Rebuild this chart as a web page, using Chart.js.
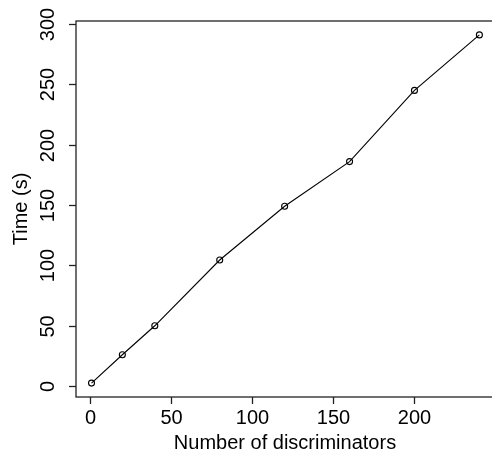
<!DOCTYPE html>
<html>
<head>
<meta charset="utf-8">
<script src="https://cdn.jsdelivr.net/npm/chart.js@4"></script>
<style>
  html, body { margin: 0; padding: 0; background: #fff; overflow: hidden; }
  #chart { display: block; }
</style>
</head>
<body>
<canvas id="chart" width="500" height="455"></canvas>
<script>
// Data
const discriminators = [1, 20, 40, 80, 120, 160, 200, 240];
const timeSeconds = [2.5, 26, 50, 104.5, 149, 186, 245, 291];
const xTicks = [0, 50, 100, 150, 200];
const yTicks = [0, 50, 100, 150, 200, 250, 300];
const xTitle = 'Number of discriminators';
const yTitle = 'Time (s)';

const FONT = '20px "Liberation Sans", Arial, sans-serif';

// R-style axes: box, outward ticks, rotated y labels
const rAxes = {
  id: 'rAxes',
  afterDraw(chart) {
    const { ctx, chartArea: a, scales } = chart;
    const x = scales.x, y = scales.y;
    ctx.save();
    ctx.strokeStyle = '#222';
    ctx.lineWidth = 1.3;
    ctx.strokeRect(a.left, a.top, a.right - a.left, a.bottom - a.top);

    ctx.fillStyle = '#000';
    ctx.font = FONT;

    // x axis
    ctx.textAlign = 'center';
    ctx.textBaseline = 'alphabetic';
    xTicks.forEach(function (v) {
      const px = Math.round(x.getPixelForValue(v)) + 0.5;
      ctx.beginPath();
      ctx.moveTo(px, a.bottom);
      ctx.lineTo(px, a.bottom + 7);
      ctx.stroke();
      ctx.fillText(String(v), px, a.bottom + 27);
    });
    ctx.fillText(xTitle, 285, a.bottom + 52);

    // y axis
    yTicks.forEach(function (v) {
      const py = Math.round(y.getPixelForValue(v)) + 0.5;
      ctx.beginPath();
      ctx.moveTo(a.left, py);
      ctx.lineTo(a.left - 7, py);
      ctx.stroke();
      ctx.save();
      ctx.translate(a.left - 22, py);
      ctx.rotate(-Math.PI / 2);
      ctx.fillText(String(v), 0, 0);
      ctx.restore();
    });
    ctx.save();
    ctx.translate(a.left - 49, (a.top + a.bottom) / 2);
    ctx.rotate(-Math.PI / 2);
    ctx.fillText(yTitle, 0, 0);
    ctx.restore();

    ctx.restore();
  }
};

const ctx = document.getElementById('chart').getContext('2d');
new Chart(ctx, {
  type: 'scatter',
  data: {
    datasets: [{
      data: discriminators.map((d, i) => ({ x: d, y: timeSeconds[i] })),
      showLine: true,
      borderColor: '#000',
      borderWidth: 1.1,
      pointRadius: 3,
      pointBorderWidth: 1.1,
      pointBorderColor: '#000',
      pointBackgroundColor: 'rgba(0,0,0,0)',
      tension: 0
    }]
  },
  options: {
    responsive: false,
    animation: false,
    devicePixelRatio: 1,
    layout: { padding: { left: 76, top: 21, right: 4, bottom: 58 } },
    plugins: { legend: { display: false }, tooltip: { enabled: false } },
    scales: {
      x: { type: 'linear', display: false, min: -8.56, max: 249.56 },
      y: { type: 'linear', display: false, min: -9, max: 302.5 }
    }
  },
  plugins: [rAxes]
});
</script>
</body>
</html>
